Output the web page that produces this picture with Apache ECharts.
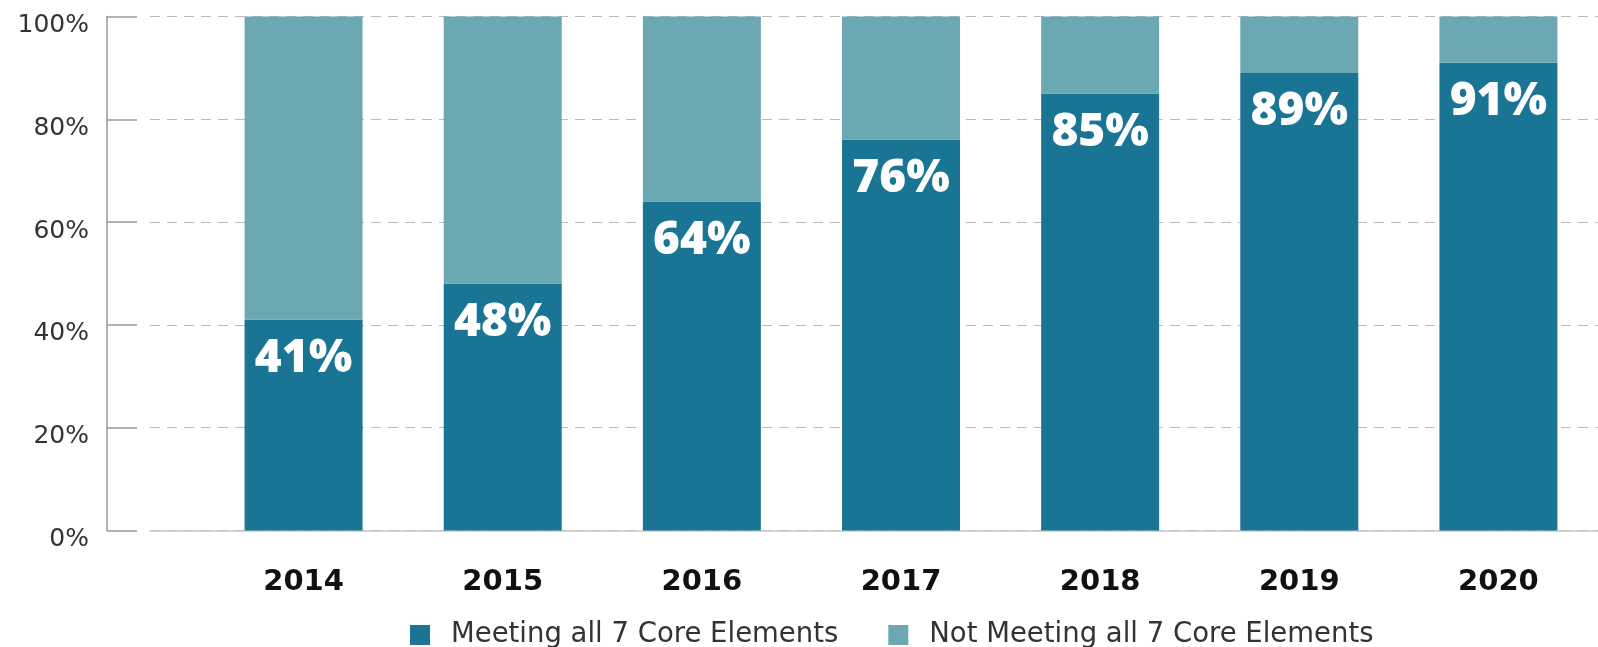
<!DOCTYPE html>
<html>
<head>
<meta charset="utf-8">
<script src="https://cdn.jsdelivr.net/npm/echarts@6/dist/echarts.min.js"></script>
<style>
  html, body { margin: 0; padding: 0; background: #fff; }
  #chart { width: 1598px; height: 647px; }
</style>
</head>
<body>
<div id="chart"></div>
<script>
// data
var years = ["2014", "2015", "2016", "2017", "2018", "2019", "2020"];
var meeting = [41, 48, 64, 76, 85, 89, 91];
var notMeeting = [59, 52, 36, 24, 15, 11, 9];
var seriesNames = ["Meeting all 7 Core Elements", "Not Meeting all 7 Core Elements"];
var colors = ["#1a7594", "#6ba8b2"];

var plainFont = "'DejaVu Sans', sans-serif";
var labelFont = "'Open Sans', 'DejaVu Sans', sans-serif";

var chart = echarts.init(document.getElementById("chart"));

var option = {
    animation: false,
    textStyle: { fontFamily: plainFont },
    legend: {
        data: seriesNames,
        left: 405,
        top: 616,
        icon: "rect",
        itemWidth: 20,
        itemHeight: 20,
        itemGap: 50,
        textStyle: {
            fontFamily: plainFont,
            fontSize: 27.5,
            color: "#333",
            padding: [0, 0, 0, 16]
        }
    },
    grid: [
        // axis grid: y axis, dashed lines and baseline
        { left: 150, right: 0, top: 16.5, bottom: 116.5 },
        // bar grid
        { left: 204, right: -9.5, top: 16.5, bottom: 116.5 }
    ],
    xAxis: [{
        gridIndex: 0,
        type: "category",
        data: years,
        axisLine: { show: true, lineStyle: { color: "#c8c8c8", width: 1.5 } },
        axisTick: { show: false },
        axisLabel: { show: false }
    }, {
        gridIndex: 1,
        type: "category",
        data: years,
        axisLine: { show: false },
        axisTick: { show: false },
        axisLabel: {
            margin: 37,
            fontFamily: plainFont,
            fontSize: 29,
            fontWeight: "bold",
            color: "#111"
        }
    }],
    yAxis: [{
        gridIndex: 0,
        type: "value",
        min: 0,
        max: 100,
        interval: 20,
        offset: 43,
        axisLine: { show: true, lineStyle: { color: "#999", width: 1.5 } },
        axisTick: { show: true, inside: true, length: 30, lineStyle: { color: "#999", width: 1.5 } },
        axisLabel: {
            formatter: "{value}%",
            margin: 18,
            verticalAlign: "top",
            lineHeight: 18,
            fontFamily: plainFont,
            fontSize: 25,
            color: "#333"
        },
        splitLine: {
            show: true,
            lineStyle: { color: "#bbb", type: [10, 7], width: 1 }
        }
    }, {
        gridIndex: 1,
        type: "value",
        min: 0,
        max: 100,
        show: false
    }],
    series: [{
        name: seriesNames[0],
        type: "bar",
        stack: "total",
        xAxisIndex: 1,
        yAxisIndex: 1,
        barWidth: 118,
        itemStyle: { color: colors[0] },
        label: {
            show: true,
            position: "insideTop",
            distance: 16,
            formatter: "{c}%",
            fontFamily: labelFont,
            fontSize: 46,
            fontWeight: 800,
            color: "#fff"
        },
        data: meeting
    }, {
        name: seriesNames[1],
        type: "bar",
        stack: "total",
        xAxisIndex: 1,
        yAxisIndex: 1,
        barWidth: 118,
        itemStyle: { color: colors[1] },
        data: notMeeting
    }]
};

chart.setOption(option);
window.addEventListener("resize", function() {
    chart.resize();
});
</script>
</body>
</html>
